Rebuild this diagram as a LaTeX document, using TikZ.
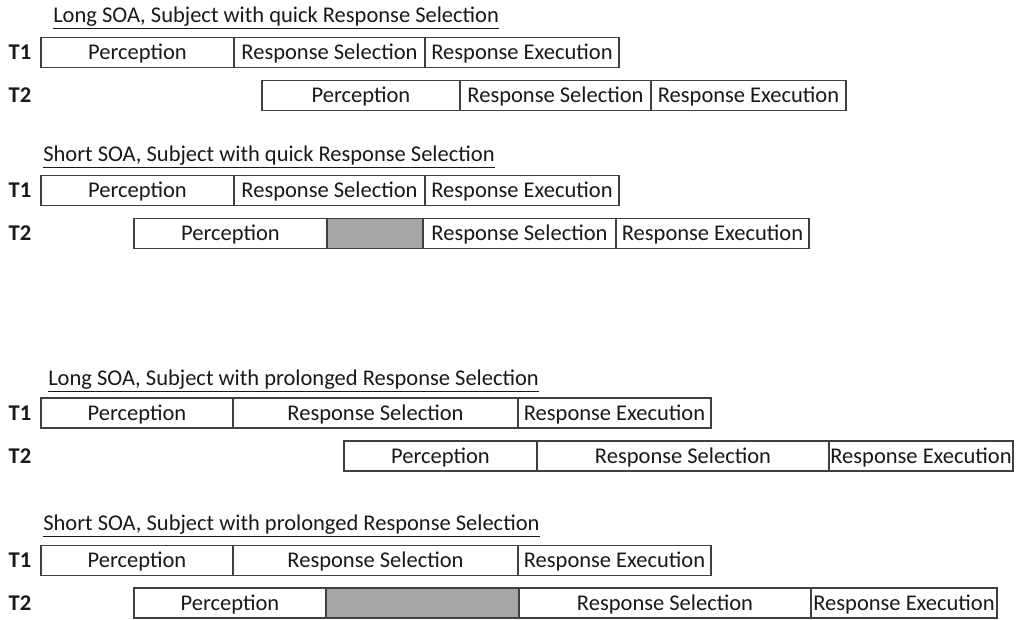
\documentclass[tikz,border=0pt]{standalone}
\usepackage{fontspec}
\setmainfont{Carlito}
\usetikzlibrary{positioning}

\begin{document}
\begin{tikzpicture}[x=0.025cm, y=-0.025cm,
  seg/.style={rectangle, draw=black!75, line width=1.1pt, fill=white, minimum width=#1*0.025cm,
              minimum height=0.74cm, inner sep=0pt, outer sep=0pt, text=black!90,
              text height=12pt, text depth=1.4pt, font=\fontsize{16}{19}\selectfont},
  idle/.style={seg=#1, fill=gray!70},
  tasklbl/.style={font=\fontsize{16}{19}\selectfont\bfseries, inner sep=0pt, text=black!90},
  heading/.style={anchor=west, font=\fontsize{16}{19}\selectfont, inner sep=0pt, text=black!90}
]
  \useasboundingbox (0,0) rectangle (1017,619);

  % ===== Long SOA, quick Response Selection =====
  \node[heading] (h1) at (53,18) {\underline{Long SOA, Subject with quick Response Selection}};
  \node[tasklbl] (a1) at (20,52.5) {T1};
  \node[seg=193, anchor=west] (a1p) at (41,52.5) {Perception};
  \node[seg=191, right=0pt of a1p] (a1s) {Response Selection};
  \node[seg=194, right=0pt of a1s] (a1e) {Response Execution};
  \node[tasklbl] (a2) at (20,95.5) {T2};
  \node[seg=198, anchor=west] (a2p) at (262,95.5) {Perception};
  \node[seg=191, right=0pt of a2p] (a2s) {Response Selection};
  \node[seg=195, right=0pt of a2s] (a2e) {Response Execution};

  % ===== Short SOA, quick Response Selection =====
  \node[heading] (h2) at (43,157) {\underline{Short SOA, Subject with quick Response Selection}};
  \node[tasklbl] (b1) at (20,190.5) {T1};
  \node[seg=193, anchor=west] (b1p) at (41,190.5) {Perception};
  \node[seg=191, right=0pt of b1p] (b1s) {Response Selection};
  \node[seg=194, right=0pt of b1s] (b1e) {Response Execution};
  \node[tasklbl] (b2) at (20,233.5) {T2};
  \node[seg=193, anchor=west] (b2p) at (134,233.5) {Perception};
  \node[idle=96, right=0pt of b2p] (b2w) {};
  \node[seg=193, right=0pt of b2w] (b2s) {Response Selection};
  \node[seg=193, right=0pt of b2s] (b2e) {Response Execution};

  % ===== Long SOA, prolonged Response Selection =====
  \node[heading] (h3) at (48,381) {\underline{Long SOA, Subject with prolonged Response Selection}};
  \node[tasklbl] (c1) at (20,413) {T1};
  \node[seg=192, anchor=west] (c1p) at (41,413) {Perception};
  \node[seg=285, right=0pt of c1p] (c1s) {Response Selection};
  \node[seg=193, right=0pt of c1s] (c1e) {Response Execution};
  \node[tasklbl] (c2) at (20,456) {T2};
  \node[seg=193, anchor=west] (c2p) at (344,456) {Perception};
  \node[seg=292, right=0pt of c2p] (c2s) {Response Selection};
  \node[seg=184, right=0pt of c2s] (c2e) {Response Execution};

  % ===== Short SOA, prolonged Response Selection =====
  \node[heading] (h4) at (43,526) {\underline{Short SOA, Subject with prolonged Response Selection}};
  \node[tasklbl] (d1) at (20,560.5) {T1};
  \node[seg=192, anchor=west] (d1p) at (41,560.5) {Perception};
  \node[seg=285, right=0pt of d1p] (d1s) {Response Selection};
  \node[seg=193, right=0pt of d1s] (d1e) {Response Execution};
  \node[tasklbl] (d2) at (20,603) {T2};
  \node[seg=192, anchor=west] (d2p) at (134,603) {Perception};
  \node[idle=193, right=0pt of d2p] (d2w) {};
  \node[seg=292, right=0pt of d2w] (d2s) {Response Selection};
  \node[seg=186, right=0pt of d2s] (d2e) {Response Execution};
\end{tikzpicture}
\end{document}
